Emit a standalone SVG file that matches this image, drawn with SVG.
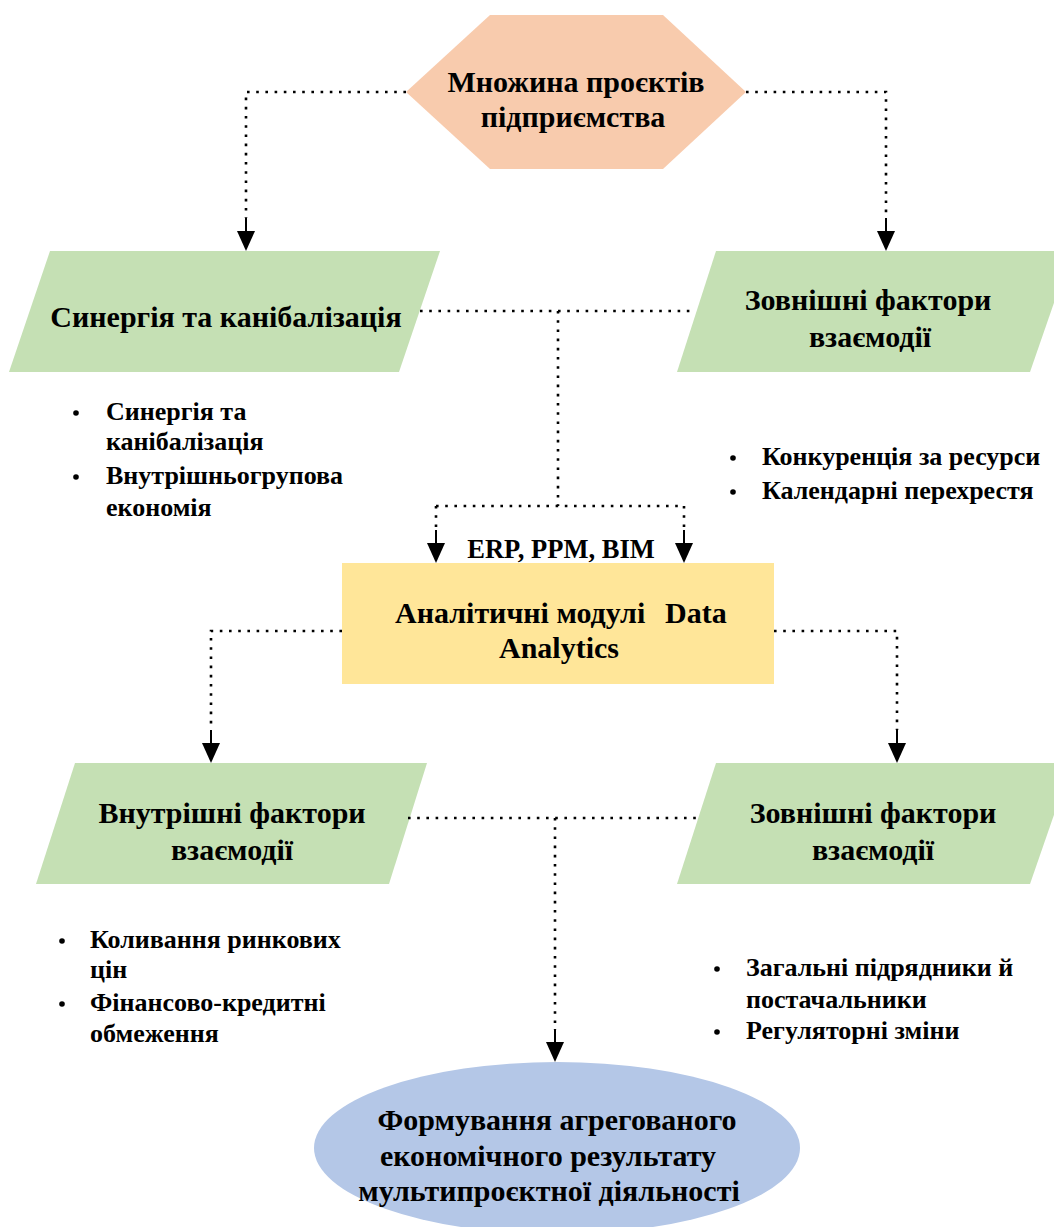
<svg xmlns="http://www.w3.org/2000/svg" xmlns:xlink="http://www.w3.org/1999/xlink" width="1054" height="1227" viewBox="0 0 1054 1227">
  <style>
    text { font-family: "Liberation Serif", "Times New Roman", serif; font-weight: bold; fill: #000; }
    .h { font-size: 30px; text-anchor: middle; }
    .s { font-size: 26.5px; text-anchor: middle; }
    .b { font-size: 26px; }
    .dot { fill: none; stroke: #000; stroke-width: 2.6; stroke-dasharray: 2.6 6.6; }
    .hex { fill: #F8CBAD; }
    .green { fill: #C5E0B4; }
    .yellow { fill: #FFE699; }
    .blue { fill: #B4C7E7; }
  </style>
  <defs>
    <!-- solid stem and filled head, tip at the origin -->
    <g id="arrowDown">
      <line x1="0" y1="-33" x2="0" y2="-18" stroke="#000" stroke-width="2"/>
      <polygon points="-9,-20 9,-20 0,0" fill="#000"/>
    </g>
  </defs>
  <rect width="1054" height="1227" fill="#fff"/>

  <!-- nodes -->
  <g id="projects">
    <polygon class="hex" points="490,15 663,15 746,92 663,169 490,169 406,92"/>
    <text class="h" x="576" y="92">Множина проєктів</text>
    <text class="h" x="573" y="127">підприємства</text>
  </g>

  <g id="synergy">
    <polygon class="green" points="50,251 440,251 399,372 9,372"/>
    <text class="h" x="226" y="327">Синергія та канібалізація</text>
  </g>

  <g id="synergy-list">
    <circle cx="76" cy="413" r="2.8"/>
    <text class="b" x="106" y="420">Синергія та</text>
    <text class="b" x="106" y="450">канібалізація</text>
    <circle cx="76" cy="477" r="2.8"/>
    <text class="b" x="106" y="484">Внутрішньогрупова</text>
    <text class="b" x="106" y="516">економія</text>
  </g>

  <g id="external-top">
    <polygon class="green" points="716,251 1072,251 1030,372 677,372"/>
    <text class="h" x="868" y="310">Зовнішні фактори</text>
    <text class="h" x="870" y="347">взаємодії</text>
  </g>

  <g id="external-top-list">
    <circle cx="733" cy="458" r="2.8"/>
    <text class="b" x="762" y="465">Конкуренція за ресурси</text>
    <circle cx="733" cy="492" r="2.8"/>
    <text class="b" x="762" y="499">Календарні перехрестя</text>
  </g>

  <g id="sources">
    <text class="s" x="561" y="558">ERP, PPM, BIM</text>
  </g>

  <g id="analytics">
    <rect class="yellow" x="342" y="563" width="432" height="121"/>
    <text class="h" y="623"><tspan x="395" text-anchor="start">Аналітичні модулі</tspan><tspan x="665" text-anchor="start">Data</tspan></text>
    <text class="h" x="559" y="658">Analytics</text>
  </g>

  <g id="internal">
    <polygon class="green" points="75,763 427,763 389,884 36,884"/>
    <text class="h" x="232" y="823">Внутрішні фактори</text>
    <text class="h" x="232" y="860">взаємодії</text>
  </g>

  <g id="internal-list">
    <circle cx="62" cy="941" r="2.8"/>
    <text class="b" x="90" y="948">Коливання ринкових</text>
    <text class="b" x="90" y="978">цін</text>
    <circle cx="62" cy="1004" r="2.8"/>
    <text class="b" x="90" y="1011">Фінансово-кредитні</text>
    <text class="b" x="90" y="1042">обмеження</text>
  </g>

  <g id="external-bottom">
    <polygon class="green" points="716,763 1072,763 1030,884 677,884"/>
    <text class="h" x="873" y="823">Зовнішні фактори</text>
    <text class="h" x="873" y="860">взаємодії</text>
  </g>

  <g id="external-bottom-list">
    <circle cx="717" cy="969" r="2.8"/>
    <text class="b" x="746" y="976">Загальні підрядники й</text>
    <text class="b" x="746" y="1008">постачальники</text>
    <circle cx="717" cy="1032" r="2.8"/>
    <text class="b" x="746" y="1039">Регуляторні зміни</text>
  </g>

  <g id="result">
    <ellipse class="blue" cx="557" cy="1148" rx="243" ry="86"/>
    <text class="h" x="557" y="1130">Формування агрегованого</text>
    <text class="h" x="548" y="1166">економічного результату</text>
    <text class="h" x="549" y="1201">мультипроєктної діяльності</text>
  </g>

  <!-- connectors -->
  <g id="connectors">
    <path class="dot" d="M406,92 H246 V218"/>
    <path class="dot" d="M746,92 H886 V218"/>
    <path class="dot" d="M420,311 H696"/>
    <path class="dot" d="M558,311 V506"/>
    <path class="dot" d="M436,506 H684"/>
    <path class="dot" d="M436,506 V530"/>
    <path class="dot" d="M684,506 V530"/>
    <path class="dot" d="M342,631 H211 V730"/>
    <path class="dot" d="M774,631 H897 V730"/>
    <path class="dot" d="M408,818 H696"/>
    <path class="dot" d="M555,818 V1030"/>
    <use xlink:href="#arrowDown" x="246" y="251"/>
    <use xlink:href="#arrowDown" x="886" y="251"/>
    <use xlink:href="#arrowDown" x="436" y="563"/>
    <use xlink:href="#arrowDown" x="684" y="563"/>
    <use xlink:href="#arrowDown" x="211" y="763"/>
    <use xlink:href="#arrowDown" x="897" y="763"/>
    <use xlink:href="#arrowDown" x="555" y="1062"/>
  </g>
</svg>
